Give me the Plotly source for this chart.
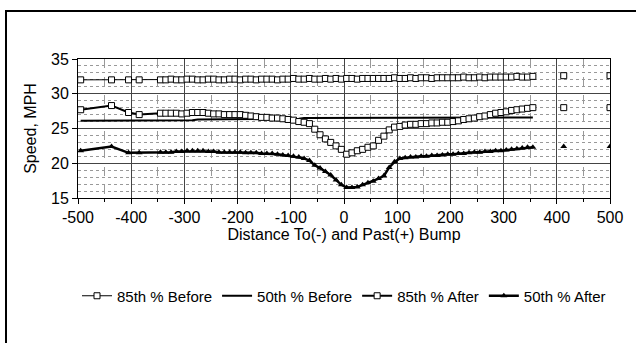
import plotly.graph_objects as go

# Distance from the bump (ft); negative = approaching, positive = past
DIST = [-495, -437, -405, -385,
        -345, -335, -325, -315, -305, -295, -285, -275, -265, -255,
        -245, -235, -225, -215, -205, -195, -185, -175, -165, -155,
        -145, -135, -125, -115, -105, -95, -85, -75, -65, -55,
        -45, -35, -25, -15, -5, 5, 15, 25, 35, 45,
        55, 65, 75, 85, 95, 105, 115, 125, 135, 145,
        155, 165, 175, 185, 195, 205, 215, 225, 235, 245,
        255, 265, 275, 285, 295, 305, 315, 325, 335, 345,
        355]
# isolated far readings (not joined to the main run)
TAIL_DIST = [413, 500]

B85 = [32.0, 32.0, 32.0, 32.0,
       32.0, 32.0, 32.1, 32.0, 32.0, 32.1, 32.1, 32.0, 32.0, 32.1,
       32.1, 32.0, 32.0, 32.1, 32.1, 32.0, 32.1, 32.1, 32.0, 32.1,
       32.1, 32.1, 32.0, 32.1, 32.1, 32.2, 32.1, 32.1, 32.2, 32.1,
       32.1, 32.2, 32.1, 32.2, 32.1, 32.2, 32.2, 32.1, 32.2, 32.2,
       32.2, 32.2, 32.2, 32.2, 32.3, 32.2, 32.2, 32.3, 32.2, 32.3,
       32.3, 32.2, 32.3, 32.3, 32.3, 32.3, 32.3, 32.4, 32.3, 32.3,
       32.4, 32.3, 32.4, 32.4, 32.4, 32.4, 32.4, 32.5, 32.4, 32.4,
       32.5]
B85_TAIL = [32.6, 32.6]

B50 = [26.1, 26.1, 26.1, 26.2,
       26.2, 26.2, 26.2, 26.2, 26.2, 26.2, 26.2, 26.3, 26.3, 26.3,
       26.3, 26.3, 26.3, 26.3, 26.3, 26.3, 26.4, 26.4, 26.4, 26.4,
       26.4, 26.4, 26.4, 26.4, 26.4, 26.4, 26.4, 26.5, 26.5, 26.5,
       26.5, 26.5, 26.5, 26.5, 26.5, 26.5, 26.5, 26.5, 26.5, 26.5,
       26.5, 26.5, 26.5, 26.5, 26.5, 26.5, 26.5, 26.6, 26.6, 26.6,
       26.6, 26.6, 26.6, 26.6, 26.6, 26.6, 26.6, 26.6, 26.6, 26.6,
       26.6, 26.6, 26.6, 26.6, 26.6, 26.6, 26.6, 26.6, 26.6, 26.6,
       26.6]

A85 = [27.7, 28.3, 27.3, 27.0,
       27.2, 27.2, 27.2, 27.2, 27.1, 27.2, 27.3, 27.3, 27.3, 27.2,
       27.1, 27.1, 27.0, 27.0, 27.0, 27.0, 26.9, 26.8, 26.7, 26.6,
       26.6, 26.5, 26.5, 26.4, 26.3, 26.2, 26.0, 25.9, 25.7, 24.9,
       24.1, 23.5, 23.0, 22.5, 22.0, 21.3, 21.5, 21.8, 22.0, 22.3,
       22.5, 23.3, 23.9, 24.8, 25.2, 25.3, 25.5, 25.6, 25.6, 25.7,
       25.7, 25.8, 25.8, 25.9, 25.9, 26.0, 26.1, 26.3, 26.4, 26.5,
       26.7, 26.8, 27.0, 27.2, 27.3, 27.4, 27.6, 27.7, 27.8, 27.9,
       28.0]
A85_TAIL = [28.0, 28.0]

A50 = [21.8, 22.4, 21.5, 21.5,
       21.6, 21.6, 21.6, 21.7, 21.7, 21.8, 21.8, 21.8, 21.8, 21.7,
       21.7, 21.6, 21.6, 21.6, 21.6, 21.6, 21.5, 21.5, 21.5, 21.4,
       21.4, 21.4, 21.3, 21.2, 21.1, 21.0, 20.9, 20.7, 20.4, 19.7,
       19.3, 18.8, 18.3, 17.6, 16.9, 16.5, 16.5, 16.6, 16.9, 17.2,
       17.4, 17.8, 18.2, 19.4, 20.2, 20.7, 20.8, 20.9, 20.9, 21.0,
       21.0, 21.1, 21.1, 21.2, 21.3, 21.3, 21.4, 21.4, 21.5, 21.6,
       21.6, 21.7, 21.7, 21.8, 21.8, 21.9, 22.0, 22.1, 22.2, 22.3,
       22.3]
A50_TAIL = [22.4, 22.4]

X_TICKS = [-500, -400, -300, -200, -100, 0, 100, 200, 300, 400, 500]
X_LABELS = ["-500", "-400", "-300", "-200", "-100", "0", "100", "200", "300", "400", "500"]
Y_TICKS = [15, 20, 25, 30, 35]

FONT = "Liberation Sans, Arial, sans-serif"
box_marker = dict(symbol="square", size=6, color="white", line=dict(color="black", width=1))
tri_marker = dict(symbol="triangle-up", size=6, color="black")

fig = go.Figure()

fig.add_trace(go.Scatter(x=DIST, y=B85, mode="lines+markers", name="85th % Before",
                         line=dict(color="black", width=1), marker=box_marker))
fig.add_trace(go.Scatter(x=TAIL_DIST, y=B85_TAIL, mode="markers", showlegend=False,
                         marker=box_marker))

fig.add_trace(go.Scatter(x=DIST, y=B50, mode="lines", name="50th % Before",
                         line=dict(color="black", width=2)))

fig.add_trace(go.Scatter(x=DIST, y=A85, mode="lines+markers", name="85th % After",
                         line=dict(color="black", width=2), marker=box_marker))
fig.add_trace(go.Scatter(x=TAIL_DIST, y=A85_TAIL, mode="markers", showlegend=False,
                         marker=box_marker))

fig.add_trace(go.Scatter(x=DIST, y=A50, mode="lines+markers", name="50th % After",
                         line=dict(color="black", width=2.5), marker=tri_marker))
fig.add_trace(go.Scatter(x=TAIL_DIST, y=A50_TAIL, mode="markers", showlegend=False,
                         marker=tri_marker))

# outer frame around the whole graphic
L, R, T, B = 78, 26, 59, 145
W, H = 636, 343
pw, ph = W - L - R, H - T - B
fig.add_shape(type="rect", xref="paper", yref="paper",
              x0=(6 - L) / pw, x1=(W + 10 - L) / pw,
              y0=(H - B - (H + 10)) / ph, y1=(H - B - 11) / ph,
              line=dict(color="black", width=2), fillcolor="rgba(0,0,0,0)", layer="above")

fig.update_layout(
    width=W, height=H,
    margin=dict(l=L, r=R, t=T, b=B),
    paper_bgcolor="white", plot_bgcolor="white",
    font=dict(family=FONT, size=16, color="black"),
    showlegend=True,
    legend=dict(orientation="h", x=0.5, xanchor="center", y=(H - B - 296) / ph,
                yanchor="middle", font=dict(size=15), itemwidth=30,
                bgcolor="rgba(0,0,0,0)", tracegroupgap=0),
)

fig.update_xaxes(
    range=[-500, 500], tickvals=X_TICKS, ticktext=X_LABELS,
    ticks="outside", ticklen=5, tickcolor="black",
    showline=True, linecolor="black", linewidth=1, mirror=True,
    showgrid=True, gridcolor="#444", gridwidth=1,
    minor=dict(dtick=50, tick0=0, showgrid=True, gridcolor="#999", griddash="dash",
               gridwidth=1, ticks="outside", ticklen=3, tickcolor="black"),
    zeroline=False,
    title=dict(text="Distance To(-) and Past(+) Bump", standoff=2, font=dict(size=16)),
    tickfont=dict(size=16),
)
fig.update_yaxes(
    range=[15, 35], tickvals=Y_TICKS, ticks="outside", ticklen=5, tickcolor="black",
    showline=True, linecolor="black", linewidth=1, mirror=True,
    showgrid=True, gridcolor="#444", gridwidth=1,
    minor=dict(dtick=1, tick0=15, showgrid=True, gridcolor="#999", griddash="dot",
               gridwidth=1),
    zeroline=False,
    title=dict(text="Speed, MPH", standoff=10, font=dict(size=16)),
    tickfont=dict(size=16),
)

fig.write_html("out.html")
